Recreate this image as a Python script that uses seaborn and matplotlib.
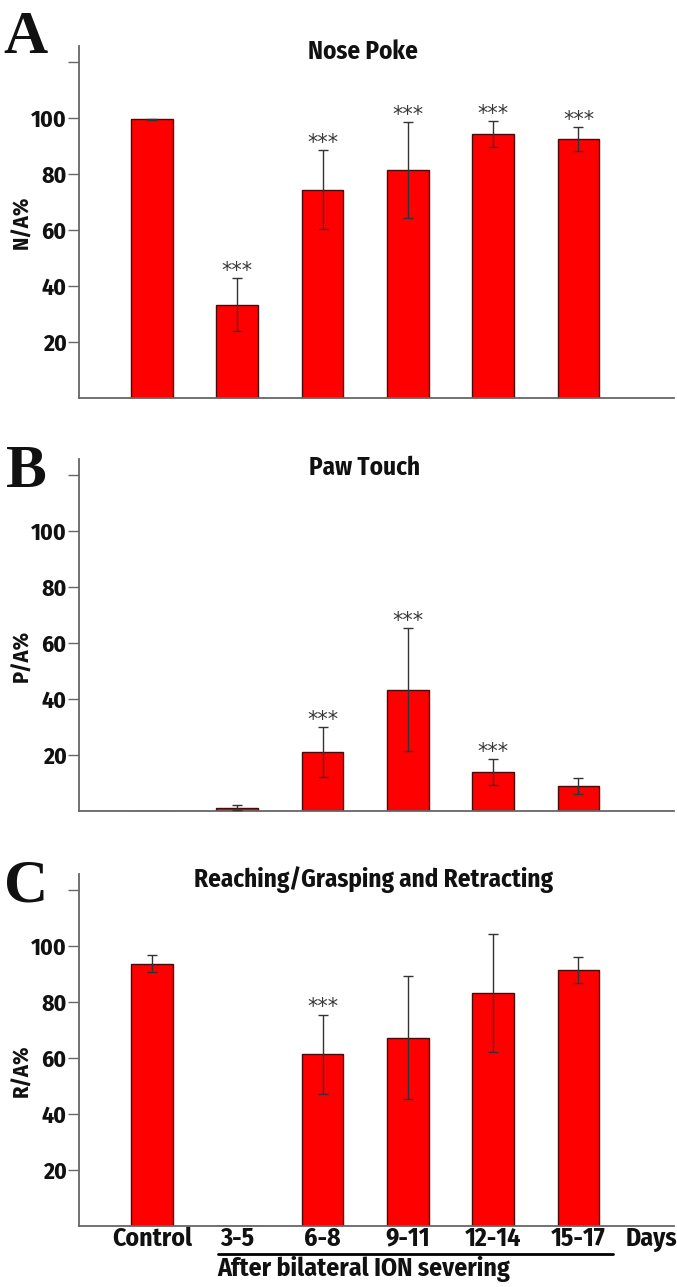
import numpy as np
import pandas as pd
import matplotlib
matplotlib.use("Agg")
import matplotlib.pyplot as plt
import matplotlib.transforms as mtransforms
import seaborn as sns

# ---------------- data ----------------
categories = ["Control", "3-5", "6-8", "9-11", "12-14", "15-17"]

nose_poke_mean = [99.5, 33.3, 74.4, 81.3, 94.4, 92.5]
nose_poke_err = [0.3, 9.4, 14.1, 17.2, 4.6, 4.4]
nose_poke_sig = [False, True, True, True, True, True]

paw_touch_mean = [0.0, 1.2, 21.0, 43.3, 14.0, 8.9]
paw_touch_err = [0.0, 0.8, 9.0, 22.0, 4.6, 3.0]
paw_touch_sig = [False, False, True, True, True, False]

reach_mean = [93.7, 0.0, 61.3, 67.3, 83.3, 91.4]
reach_err = [3.1, 0.0, 14.2, 22.0, 21.0, 4.7]
reach_sig = [False, False, True, False, False, False]

panel_titles = ["Nose Poke", "Paw Touch", "Reaching/Grasping and Retracting"]
panel_letters = ["A", "B", "C"]
panel_ylabels = ["N/A%", "P/A%", "R/A%"]
ytick_values = [20, 40, 60, 80, 100, 120]
ytick_labels = ["20", "40", "60", "80", "100", ""]
days_label = "Days"
group_label = "After bilateral ION severing"

# ---------------- style ----------------
sns.set_theme(style="white")
SANS = ["Fira Sans Condensed", "DejaVu Sans"]
plt.rcParams["font.family"] = SANS
TXT = "#111111"

W, H = 677, 1287
fig = plt.figure(figsize=(W / 100, H / 100), dpi=100)


def fx(px):
    return px / W


def fy(py):
    return 1 - py / H


BAR_RED = "#ff0000"
EDGE = "#4a0a0a"
SPINE = "#666666"
ERR = "#333333"

baselines = [398, 811, 1226]
axes_height_px = 352
left_px, right_px = 79, 674

panels = [
    (nose_poke_mean, nose_poke_err, nose_poke_sig),
    (paw_touch_mean, paw_touch_err, paw_touch_sig),
    (reach_mean, reach_err, reach_sig),
]
ylabel_y = [0.50, 0.44, 0.44]

for i, (means, errs, sig) in enumerate(panels):
    yb = baselines[i]
    ax = fig.add_axes([fx(left_px), fy(yb), fx(right_px - left_px),
                       axes_height_px / H])
    df = pd.DataFrame({"day": categories, "value": means})
    sns.barplot(data=df, x="day", y="value", order=categories, color=BAR_RED,
                saturation=1, width=0.49, edgecolor=EDGE, linewidth=1.0,
                errorbar=None, ax=ax)
    pos = np.arange(len(categories))
    m = np.array(means, dtype=float)
    e = np.array(errs, dtype=float)
    show = e > 0
    ax.errorbar(pos[show], m[show], yerr=e[show], fmt="none", ecolor=ERR,
                elinewidth=1.0, capsize=3.5, capthick=1.0, zorder=5)
    for p, mv, ev, s in zip(pos, m, e, sig):
        if s:
            ax.text(p, mv + ev + 0.4, "***", ha="center", va="baseline",
                    fontsize=15, color="#3a3a3a", family=["DejaVu Sans"])

    ax.set_xlim(-0.856, 6.12)
    ax.set_ylim(0, 125.7)
    ax.set_yticks(ytick_values)
    ax.set_yticklabels(ytick_labels, fontsize=17, fontweight="bold", color=TXT)
    ax.tick_params(axis="y", direction="out", length=8, width=1.0,
                   color=SPINE, pad=1, left=True)
    for sp in ["top", "right"]:
        ax.spines[sp].set_visible(False)
    for sp in ["left", "bottom"]:
        ax.spines[sp].set_color(SPINE)
        ax.spines[sp].set_linewidth(1.3)
    ax.set_xlabel("")
    ax.set_ylabel(panel_ylabels[i], fontsize=16, fontweight="bold", color=TXT)
    ax.yaxis.set_label_coords(-0.077, ylabel_y[i])
    if i < 2:
        ax.tick_params(axis="x", bottom=False, labelbottom=False)
    else:
        ax.tick_params(axis="x", bottom=False, length=0, labelbottom=True,
                       pad=0)
        ax.set_xticks(pos)
        ax.set_xticklabels(categories, fontsize=18.5, fontweight="bold",
                           color=TXT)
        trans = mtransforms.blended_transform_factory(ax.transData,
                                                      fig.transFigure)
        ax.text(5.85, fy(1240), days_label, transform=trans, ha="center",
                va="center", fontsize=18.5, fontweight="bold", color=TXT)
        ax.plot([0.77, 5.4], [fy(1254), fy(1254)], transform=trans,
                color="black", lw=2.0, clip_on=False)
        ax.text(0.77, fy(1269), group_label, transform=trans, ha="left",
                va="center", fontsize=18.5, fontweight="bold", color=TXT)

    # panel title and letter
    title_x = [363, 365, 373][i]
    title_y = [52, 468, 880][i]
    fig.text(fx(title_x), fy(title_y), panel_titles[i], ha="center",
             va="center", fontsize=18, fontweight="bold", color=TXT)
    letter_base = [53, 487, 902][i]
    fig.text(fx(26), fy(letter_base), panel_letters[i], ha="center",
             va="baseline", fontsize=44, fontweight="bold",
             family=["Liberation Serif", "DejaVu Serif"], color=TXT)

fig.savefig("out.png", dpi=100, facecolor="white")
